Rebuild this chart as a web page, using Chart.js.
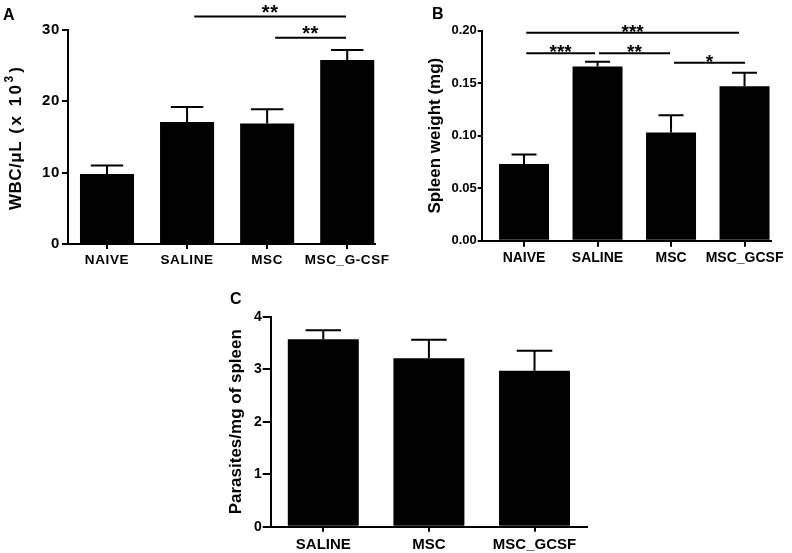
<!DOCTYPE html>
<html>
<head>
<meta charset="utf-8">
<script src="https://cdn.jsdelivr.net/npm/chart.js@4.4.1/dist/chart.umd.min.js"></script>
<style>
  body { margin: 0; background: #fff; }
  #wrap { position: relative; width: 792px; height: 553px; overflow: hidden; background: #fff; }
  canvas { position: absolute; }
  #chartA { left: 0; top: 0; }
  #chartB { left: 396px; top: 0; }
  #chartC { left: 180px; top: 270px; }
</style>
</head>
<body>
<div id="wrap">
  <canvas id="chartA" width="396" height="270"></canvas>
  <canvas id="chartB" width="396" height="270"></canvas>
  <canvas id="chartC" width="420" height="283"></canvas>
</div>
<script>
// A - white blood cells
const wbcLabels = ['NAIVE', 'SALINE', 'MSC', 'MSC_G-CSF'];
const wbcMeans = [9.8, 17.1, 16.9, 25.8];
const wbcSem = [1.2, 2.1, 2.0, 1.4];
const wbcTicks = [0, 10, 20, 30];
const wbcSig = [
    { from: 1.09, to: 2.985, y: 31.9, stars: '**' },
    { from: 2.1, to: 2.985, y: 28.9, stars: '**' }
];

// B - spleen weight
const spleenLabels = ['NAIVE', 'SALINE', 'MSC', 'MSC_GCSF'];
const spleenMeans = [0.073, 0.166, 0.103, 0.147];
const spleenSem = [0.009, 0.0045, 0.0165, 0.013];
const spleenTicks = [0, 0.05, 0.10, 0.15, 0.20];
const spleenSig = [
    { from: 0.03, to: 2.925, y: 0.198, stars: '***' },
    { from: 0.03, to: 0.966, y: 0.1785, stars: '***' },
    { from: 1.02, to: 1.986, y: 0.1785, stars: '**' },
    { from: 2.04, to: 3.007, y: 0.1695, stars: '*' }
];

// C - parasites
const parasiteLabels = ['SALINE', 'MSC', 'MSC_GCSF'];
const parasiteMeans = [3.57, 3.21, 2.97];
const parasiteSem = [0.17, 0.35, 0.38];
const parasiteTicks = [0, 1, 2, 3, 4];

const family = '"Liberation Sans", Arial, sans-serif';
Chart.defaults.font.family = family;
Chart.defaults.font.weight = 'bold';
Chart.defaults.color = '#000';

const errorBars = {
    id: 'errorBars',
    afterDatasetsDraw(chart, args, opts) {
        const ctx = chart.ctx;
        const y = chart.scales.y;
        const points = chart.data.datasets[0].data;
        ctx.save();
        ctx.strokeStyle = '#000';
        ctx.lineWidth = 2;
        chart.getDatasetMeta(0).data.forEach((bar, i) => {
            const top = y.getPixelForValue(points[i].y + opts.sem[i]);
            const half = bar.width * opts.cap / 2;
            ctx.beginPath();
            ctx.moveTo(bar.x, bar.y);
            ctx.lineTo(bar.x, top);
            ctx.moveTo(bar.x - half, top);
            ctx.lineTo(bar.x + half, top);
            ctx.stroke();
        });
        ctx.restore();
    }
};

const sigBars = {
    id: 'sigBars',
    afterDraw(chart, args, opts) {
        if (!opts.items) return;
        const { ctx, scales: { x, y } } = chart;
        ctx.save();
        ctx.strokeStyle = '#000';
        ctx.fillStyle = '#000';
        ctx.lineWidth = 2;
        ctx.font = `bold ${opts.size}px ${family}`;
        ctx.textAlign = 'center';
        ctx.textBaseline = 'alphabetic';
        opts.items.forEach(s => {
            const x0 = x.getPixelForValue(s.from);
            const x1 = x.getPixelForValue(s.to);
            const py = y.getPixelForValue(s.y);
            ctx.beginPath();
            ctx.moveTo(x0, py);
            ctx.lineTo(x1, py);
            ctx.stroke();
            ctx.fillText(s.stars, (x0 + x1) / 2, py - opts.gap + 0.58 * opts.size);
        });
        ctx.restore();
    }
};

const panelText = {
    id: 'panelText',
    beforeDraw(chart, args, opts) {
        chart.ctx.letterSpacing = opts.spacing || '0px';
    },
    afterDraw(chart, args, opts) {
        const ctx = chart.ctx;
        ctx.save();
        ctx.letterSpacing = '0px';
        ctx.fillStyle = '#000';
        ctx.font = `bold 16px ${family}`;
        ctx.textAlign = 'left';
        ctx.textBaseline = 'alphabetic';
        ctx.fillText(opts.letter, opts.lx, opts.ly);
        ctx.restore();
        if (opts.drawTitle) opts.drawTitle(ctx);
    }
};

// y title of A has wide spacing and a superscript, so it is drawn by hand
function drawWbcTitle(ctx) {
    ctx.save();
    ctx.translate(21, 210);
    ctx.rotate(-Math.PI / 2);
    ctx.fillStyle = '#000';
    ctx.textAlign = 'left';
    ctx.textBaseline = 'alphabetic';
    let x = 0;
    ctx.font = `bold 17px ${family}`;
    ctx.letterSpacing = '0.5px';
    ctx.fillText('WBC/\u03bcL', x, 0);
    x += ctx.measureText('WBC/\u03bcL').width;
    ctx.letterSpacing = '2.5px';
    ctx.fillText(' (x 10', x, 0);
    x += ctx.measureText(' (x 10').width;
    ctx.font = `bold 12px ${family}`;
    ctx.letterSpacing = '0px';
    ctx.fillText('3', x, -8);
    x += ctx.measureText('3').width + 3;
    ctx.font = `bold 17px ${family}`;
    ctx.fillText(')', x, 0);
    ctx.restore();
}

function makeChart(id, o) {
    return new Chart(document.getElementById(id), {
        type: 'bar',
        data: {
            datasets: [{
                data: o.means.map((v, i) => ({ x: i, y: v })),
                backgroundColor: '#000',
                borderWidth: 0,
                barPercentage: o.barPct,
                categoryPercentage: 1
            }]
        },
        options: {
            responsive: false,
            animation: false,
            layout: { padding: o.padding },
            plugins: {
                legend: { display: false },
                tooltip: { enabled: false },
                errorBars: { sem: o.sem, cap: o.cap },
                sigBars: { items: o.sig, size: o.starSize, gap: o.starGap },
                panelText: { letter: o.letter, lx: o.lx, ly: o.ly, spacing: o.spacing, drawTitle: o.drawTitle }
            },
            scales: {
                x: {
                    type: 'linear',
                    offset: false,
                    min: o.xMin,
                    max: o.xMax,
                    afterBuildTicks: s => { s.ticks = o.labels.map((_, i) => ({ value: i })); },
                    afterFit: s => { s.height = o.xHeight; },
                    grid: { offset: false, drawOnChartArea: false, tickLength: o.xTickLen, color: '#000', lineWidth: 2 },
                    border: { color: '#000', width: 2 },
                    ticks: {
                        callback: v => o.labels[v],
                        autoSkip: false,
                        maxRotation: 0,
                        padding: o.xPad,
                        font: { size: o.xFont, weight: 'bold' }
                    }
                },
                y: {
                    min: 0,
                    max: o.ticks[o.ticks.length - 1],
                    afterBuildTicks: s => { s.ticks = o.ticks.map(v => ({ value: v })); },
                    afterFit: s => { s.width = o.yWidth; },
                    grid: { drawOnChartArea: false, tickLength: o.yTickLen, color: '#000', lineWidth: 2 },
                    border: { color: '#000', width: 2 },
                    title: o.title ? {
                        display: true,
                        text: o.title,
                        font: { size: 17, weight: 'bold' },
                        padding: { top: o.titlePad, bottom: 0 }
                    } : { display: false },
                    ticks: {
                        callback: o.fmt,
                        padding: o.yPad,
                        font: { size: o.yFont, weight: 'bold' }
                    }
                }
            }
        },
        plugins: [errorBars, sigBars, panelText]
    });
}

makeChart('chartA', {
    labels: wbcLabels, means: wbcMeans, sem: wbcSem, ticks: wbcTicks, sig: wbcSig,
    fmt: v => String(v),
    xMin: -0.487, xMax: 3.347, barPct: 0.675, cap: 0.6,
    padding: { top: 30, right: 21, left: 0, bottom: 0 },
    yWidth: 68, xHeight: 26, xTickLen: 5, yTickLen: 6, xPad: 3, yPad: 2,
    xFont: 13.5, yFont: 15, spacing: '0.6px',
    starSize: 20, starGap: 9,
    letter: 'A', lx: 3, ly: 20, drawTitle: drawWbcTitle
});

makeChart('chartB', {
    labels: spleenLabels, means: spleenMeans, sem: spleenSem, ticks: spleenTicks, sig: spleenSig,
    fmt: v => v.toFixed(2),
    xMin: -0.576, xMax: 3.36, barPct: 0.68, cap: 0.5,
    padding: { top: 30.7, right: 21, left: 0, bottom: 0 },
    yWidth: 85.7, xHeight: 29.3, xTickLen: 6, yTickLen: 4, xPad: 3, yPad: 1,
    xFont: 14, yFont: 13,
    title: 'Spleen weight (mg)', titlePad: 29.3,
    starSize: 19, starGap: 6,
    letter: 'B', lx: 36, ly: 18.5
});

makeChart('chartC', {
    labels: parasiteLabels, means: parasiteMeans, sem: parasiteSem, ticks: parasiteTicks, sig: null,
    fmt: v => String(v),
    xMin: -0.498, xMax: 2.494, barPct: 0.672, cap: 0.5,
    padding: { top: 46.7, right: 13.3, left: 0, bottom: 0 },
    yWidth: 90.7, xHeight: 26.3, xTickLen: 5, yTickLen: 8, xPad: 4, yPad: 1,
    xFont: 15, yFont: 14,
    title: 'Parasites/mg of spleen', titlePad: 46.3,
    starSize: 16, starGap: 5,
    letter: 'C', lx: 50, ly: 34
});
</script>
</body>
</html>
